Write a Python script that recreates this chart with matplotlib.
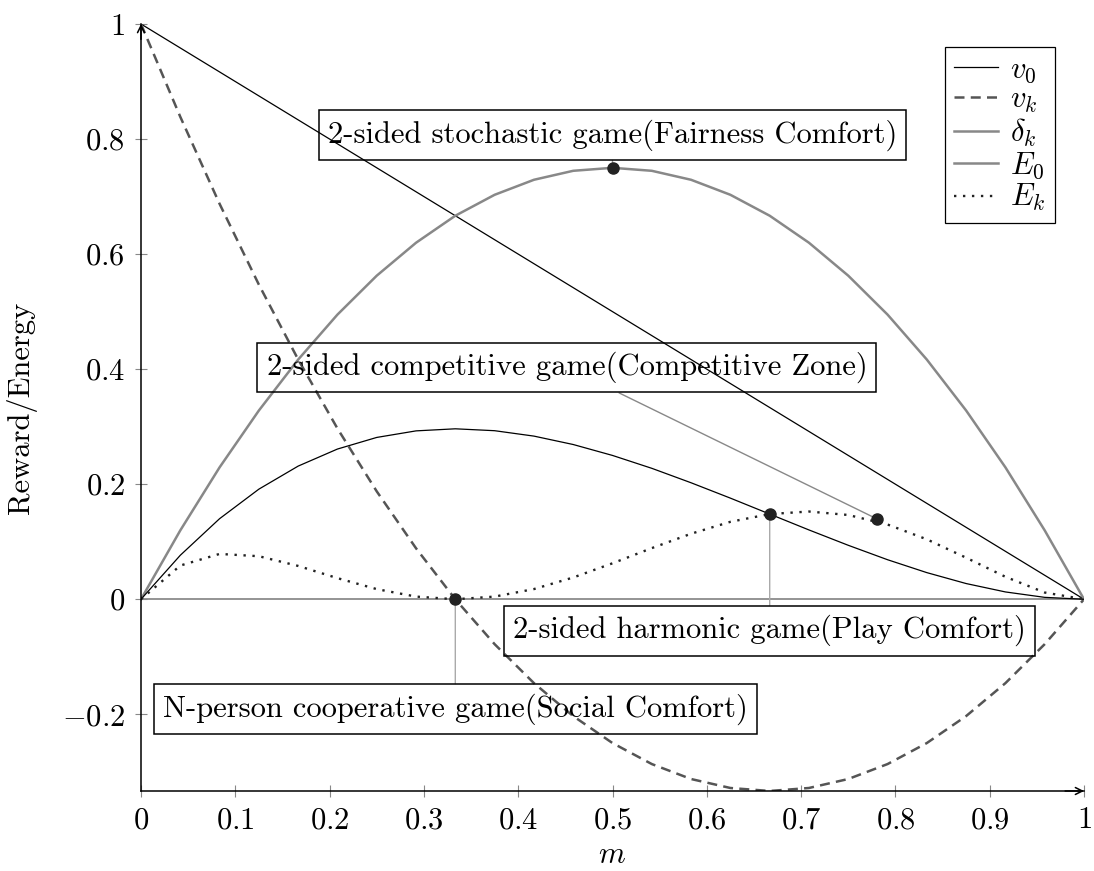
import matplotlib
matplotlib.use('Agg')
import matplotlib.pyplot as plt
from matplotlib.lines import Line2D

plt.rcParams['font.family'] = 'serif'
plt.rcParams['font.serif'] = ['cmr10']
plt.rcParams['mathtext.fontset'] = 'cm'
plt.rcParams['axes.formatter.use_mathtext'] = True

# sampled curves, 25 samples over m in [0, 1]
m = [0.0, 0.0417, 0.0833, 0.125, 0.1667, 0.2083, 0.25, 0.2917, 0.3333,
     0.375, 0.4167, 0.4583, 0.5, 0.5417, 0.5833, 0.625, 0.6667, 0.7083,
     0.75, 0.7917, 0.8333, 0.875, 0.9167, 0.9583, 1.0]
v0 = [1.0, 0.9583, 0.9167, 0.875, 0.8333, 0.7917, 0.75, 0.7083, 0.6667,
      0.625, 0.5833, 0.5417, 0.5, 0.4583, 0.4167, 0.375, 0.3333, 0.2917,
      0.25, 0.2083, 0.1667, 0.125, 0.0833, 0.0417, 0.0]
vk = [1.0, 0.8385, 0.6875, 0.5469, 0.4167, 0.2969, 0.1875, 0.0885, 0.0,
      -0.0781, -0.1458, -0.2031, -0.25, -0.2865, -0.3125, -0.3281, -0.3333,
      -0.3281, -0.3125, -0.2865, -0.25, -0.2031, -0.1458, -0.0781, 0.0]
dk = [0.0, 0.1198, 0.2292, 0.3281, 0.4167, 0.4948, 0.5625, 0.6198, 0.6667,
      0.7031, 0.7292, 0.7448, 0.75, 0.7448, 0.7292, 0.7031, 0.6667, 0.6198,
      0.5625, 0.4948, 0.4167, 0.3281, 0.2292, 0.1198, 0.0]
E0 = [0.0, 0.0765, 0.1400, 0.1914, 0.2315, 0.2611, 0.2813, 0.2927, 0.2963,
      0.2930, 0.2836, 0.2690, 0.25, 0.2276, 0.2025, 0.1758, 0.1481, 0.1205,
      0.0938, 0.0687, 0.0463, 0.0273, 0.0127, 0.0033, 0.0]
Ek = [0.0, 0.0586, 0.0788, 0.0748, 0.0579, 0.0367, 0.0176, 0.0046, 0.0,
      0.0046, 0.0177, 0.0378, 0.0625, 0.0889, 0.1139, 0.1346, 0.1481, 0.1525,
      0.1465, 0.1299, 0.1042, 0.0722, 0.0390, 0.0117, 0.0]

labels = ['$v_0$', '$v_k$', '$\\delta_k$', '$E_0$', '$E_k$']

# highlighted points and their boxed notes
pt_m = [0.5, 0.3333, 0.6667, 0.78]
pt_y = [0.75, 0.0, 0.1481, 0.14]
notes = ['2-sided stochastic game(Fairness Comfort)',
         'N-person cooperative game(Social Comfort)',
         '2-sided harmonic game(Play Comfort)',
         '2-sided competitive game(Competitive Zone)']
note_m = [0.5, 0.3333, 0.6667, 0.4517]
note_y = [0.807, -0.191, -0.0546, 0.403]
note_line = ['#999999', '#aaaaaa', '#aaaaaa', '#888888']

xticks = [0, 0.1, 0.2, 0.3, 0.4, 0.5, 0.6, 0.7, 0.8, 0.9, 1]
xtick_labels = ['$0$', '$0.1$', '$0.2$', '$0.3$', '$0.4$', '$0.5$',
                '$0.6$', '$0.7$', '$0.8$', '$0.9$', '$1$']
yticks = [-0.2, 0, 0.2, 0.4, 0.6, 0.8, 1]
ytick_labels = ['$-0.2$', '$0$', '$0.2$', '$0.4$', '$0.6$', '$0.8$', '$1$']

FS = 22

fig = plt.figure(figsize=(10.94, 8.71), dpi=100)
ax = fig.add_axes([141 / 1094, 80 / 871, 943 / 1094, 767 / 871])

ax.axhline(0, color='#777777', lw=1.1, zorder=1)

ax.plot(m, v0, color='black', lw=0.9)
ax.plot(m, vk, color='#555555', lw=1.8, ls=(0, (4, 2.5)))
ax.plot(m, dk, color='#888888', lw=1.8)
ax.plot(m, E0, color='black', lw=0.9)
ax.plot(m, Ek, color='#222222', lw=1.7, ls=(0, (1, 2.8)))

for i in range(len(notes)):
    ax.annotate(notes[i], xy=(pt_m[i], pt_y[i]), xytext=(note_m[i], note_y[i]),
                ha='center', va='center', fontsize=FS,
                bbox=dict(boxstyle='square,pad=0.3', fc='none', ec='black', lw=1.1),
                arrowprops=dict(arrowstyle='-', color=note_line[i], lw=1.0,
                                shrinkA=0, shrinkB=0))

ax.plot(pt_m, pt_y, 'o', color='#222222', ms=8, zorder=5)

ax.set_xlim(0, 1)
ax.set_ylim(-1 / 3, 1)
ax.set_xticks(xticks)
ax.set_xticklabels(xtick_labels)
ax.set_yticks(yticks)
ax.set_yticklabels(ytick_labels)
ax.tick_params(direction='inout', length=9, width=0.8, color='#888888',
               labelsize=FS, pad=7)

ax.spines['top'].set_visible(False)
ax.spines['right'].set_visible(False)
for s in ['left', 'bottom']:
    ax.spines[s].set_linewidth(1.1)

# arrow tips on the axis lines
arrow = dict(arrowstyle='->,head_length=0.5,head_width=0.25', lw=1.1,
             color='black', shrinkA=0, shrinkB=0)
ax.annotate('', xy=(0, 1.0), xytext=(0, 0.98), xycoords='axes fraction',
            arrowprops=arrow, annotation_clip=False)
ax.annotate('', xy=(1.0, 0), xytext=(0.98, 0), xycoords='axes fraction',
            arrowprops=arrow, annotation_clip=False)

handles = [Line2D([], [], color='black', lw=0.9),
           Line2D([], [], color='#555555', lw=1.8, ls=(0, (4, 2.5))),
           Line2D([], [], color='#888888', lw=1.8),
           Line2D([], [], color='#888888', lw=1.8),
           Line2D([], [], color='#222222', lw=1.7, ls=(0, (1, 2.8)))]
leg = ax.legend(handles, labels, loc='upper right',
                bbox_to_anchor=(1055 / 1094, 1 - 47 / 871),
                bbox_transform=fig.transFigure, fontsize=FS,
                fancybox=False, edgecolor='black', framealpha=1,
                borderpad=0.3, handlelength=1.45, handletextpad=0.4,
                labelspacing=0.05, borderaxespad=0)
leg.get_frame().set_linewidth(0.9)

fig.text(22 / 1094, 1 - 407.5 / 871, 'Reward/Energy', rotation=90,
         ha='center', va='center', fontsize=FS)
fig.text(612 / 1094, 1 - 855 / 871, '$m$', ha='center', va='center', fontsize=FS)

fig.savefig('out.png', dpi=100)
